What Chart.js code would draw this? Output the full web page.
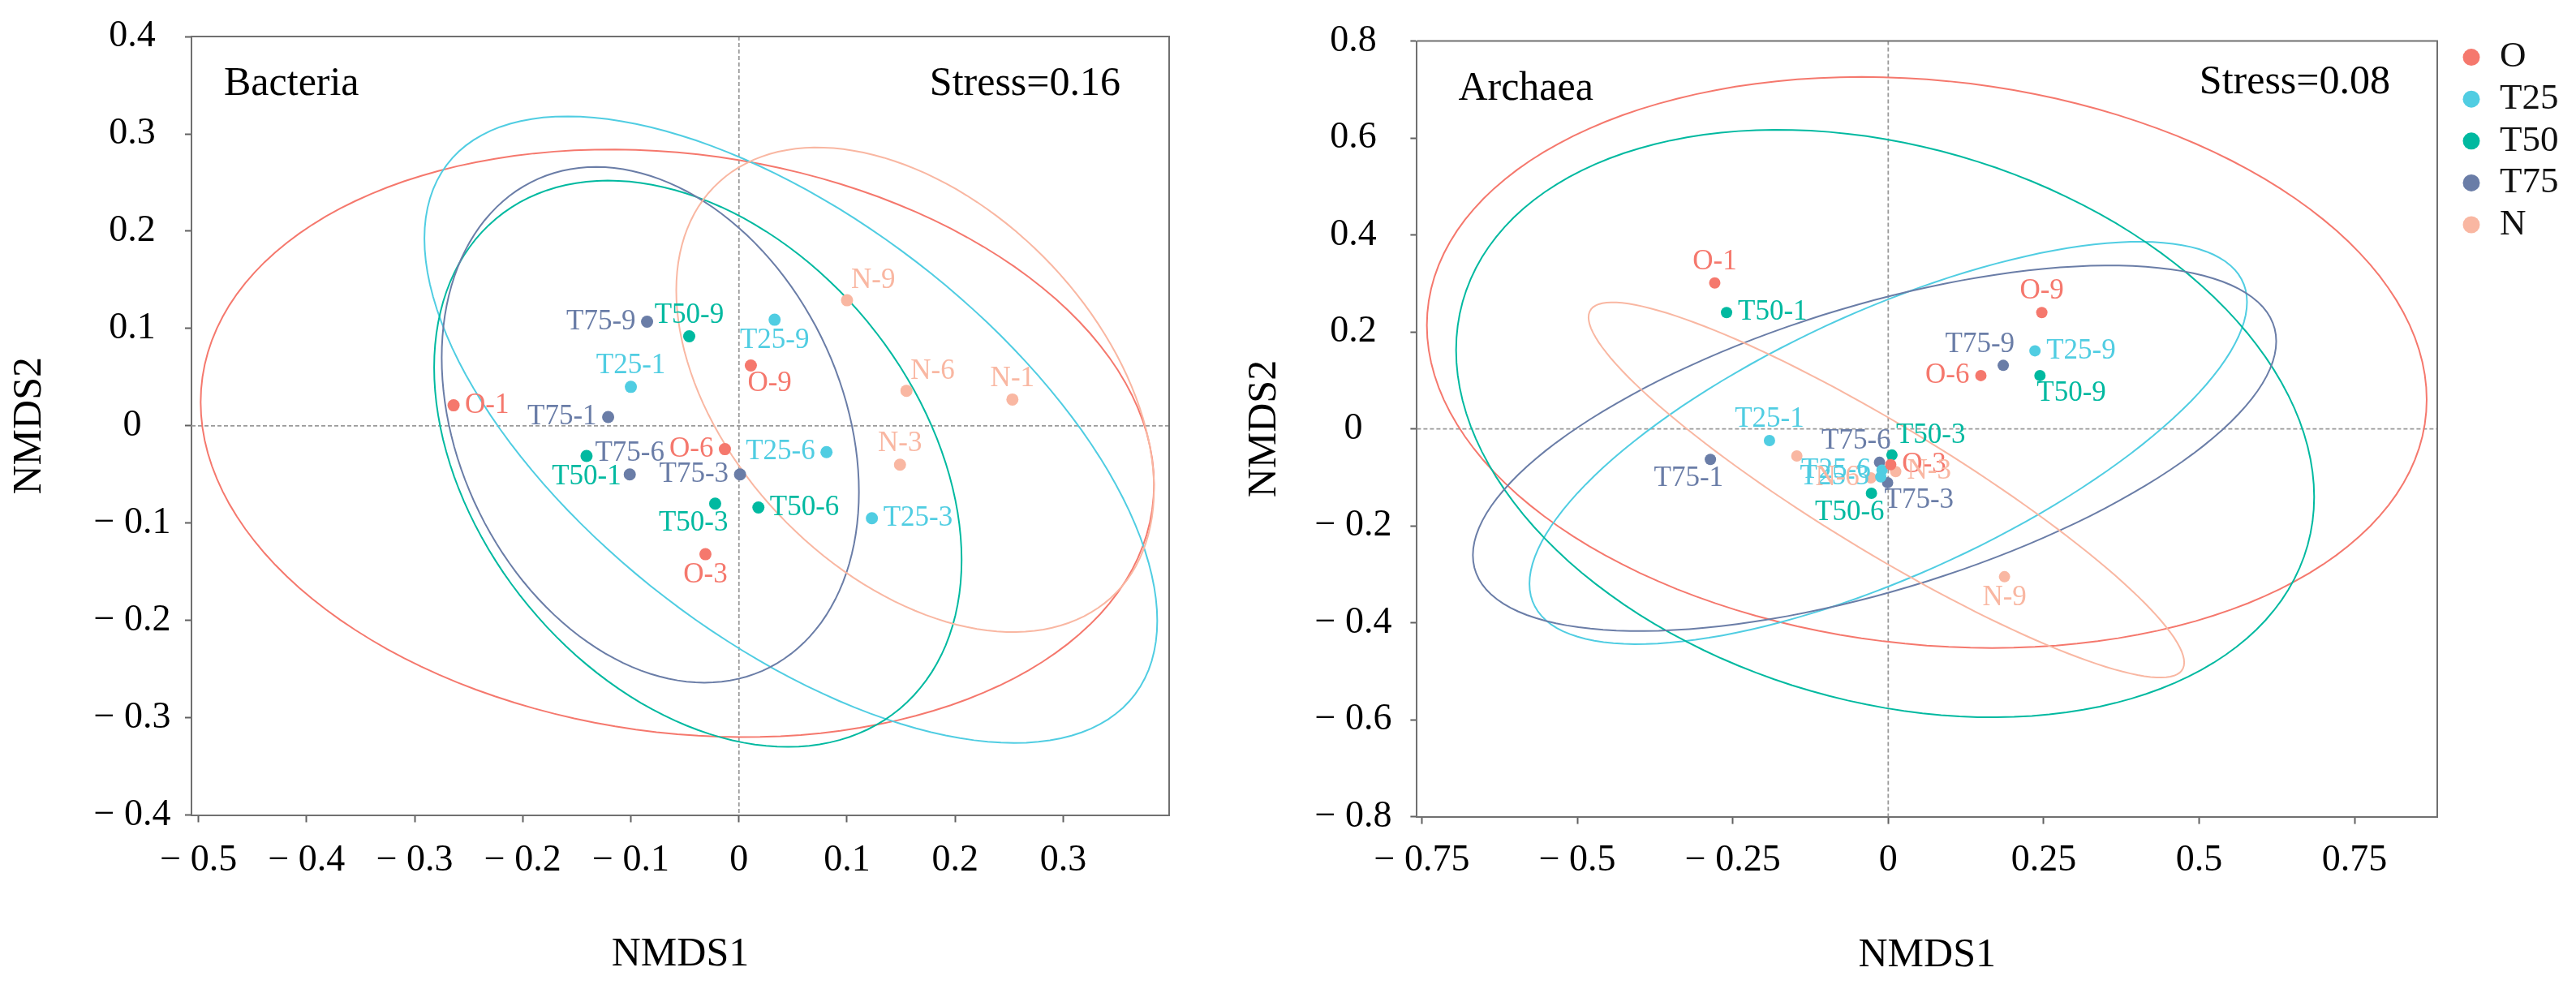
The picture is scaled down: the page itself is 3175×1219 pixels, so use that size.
<!DOCTYPE html>
<html>
<head>
<meta charset="utf-8">
<title>NMDS Bacteria / Archaea</title>
<script src="https://cdn.jsdelivr.net/npm/chart.js@4.4.1/dist/chart.umd.min.js"></script>
<style>
  html, body { margin: 0; padding: 0; background: #fff; }
  body { width: 3175px; height: 1219px; position: relative; overflow: hidden; }
  .panel { position: absolute; top: 0; height: 1219px; }
  #left { left: 0; width: 1500px; }
  #right { left: 1500px; width: 1675px; }
</style>
</head>
<body>
<div class="panel" id="left"><canvas id="bacteria"></canvas></div>
<div class="panel" id="right"><canvas id="archaea"></canvas></div>
<script>
(function () {

  'use strict';

  // groups and sampling days, sample name = group-day
  const groups = ['O', 'T25', 'T50', 'T75', 'N'];
  const days = ['1', '3', '6', '9'];

  // Bacteria NMDS scores [NMDS1, NMDS2] for days 1, 3, 6, 9
  const bactO   = [[-0.264, 0.021], [-0.031, -0.132], [-0.013, -0.024], [0.011, 0.062]];
  const bactT25 = [[-0.100, 0.040], [0.123, -0.095], [0.081, -0.027], [0.033, 0.109]];
  const bactT50 = [[-0.141, -0.031], [-0.022, -0.080], [0.018, -0.084], [-0.046, 0.092]];
  const bactT75 = [[-0.121, 0.009], [0.001, -0.050], [-0.101, -0.050], [-0.085, 0.107]];
  const bactN   = [[0.253, 0.027], [0.149, -0.040], [0.155, 0.036], [0.100, 0.129]];

  // Bacteria group ellipses (O, T25, T50, T75, N): centre, half extents, correlation
  const bactEllCx  = [-0.057, 0.048, -0.038, -0.082, 0.163];
  const bactEllCy  = [-0.018, -0.004, -0.039, 0.001, 0.037];
  const bactEllRx  = [0.441, 0.339, 0.244, 0.193, 0.221];
  const bactEllRy  = [0.302, 0.322, 0.291, 0.265, 0.249];
  const bactEllRho = [-0.14, -0.61, -0.34, -0.26, -0.41];

  // Archaea NMDS scores [NMDS1, NMDS2] for days 1, 3, 6, 9
  const archO   = [[-0.279, 0.301], [0.004, -0.074], [0.149, 0.110], [0.247, 0.240]];
  const archT25 = [[-0.191, -0.024], [-0.012, -0.099], [-0.010, -0.085], [0.236, 0.161]];
  const archT50 = [[-0.260, 0.240], [0.006, -0.054], [-0.027, -0.133], [0.244, 0.110]];
  const archT75 = [[-0.286, -0.063], [-0.001, -0.111], [-0.014, -0.069], [0.185, 0.131]];
  const archN   = [[-0.147, -0.056], [0.012, -0.088], [-0.028, -0.101], [0.187, -0.305]];

  // Archaea group ellipses
  const archEllCx  = [0.062, 0.000, -0.005, -0.022, -0.003];
  const archEllCy  = [0.137, -0.029, 0.011, -0.040, -0.126];
  const archEllRx  = [0.804, 0.577, 0.690, 0.646, 0.479];
  const archEllRy  = [0.589, 0.415, 0.606, 0.377, 0.387];
  const archEllRho = [-0.13, 0.70, -0.25, 0.585, -0.92];

  // axes
  const bactRangeX = [-0.5065, 0.398];
  const bactRangeY = [-0.4, 0.4];
  const bactTicksX = [-0.5, -0.4, -0.3, -0.2, -0.1, 0, 0.1, 0.2, 0.3];
  const bactTicksY = [-0.4, -0.3, -0.2, -0.1, 0, 0.1, 0.2, 0.3, 0.4];
  const archRangeX = [-0.758, 0.883];
  const archRangeY = [-0.8, 0.8];
  const archTicksX = [-0.75, -0.5, -0.25, 0, 0.25, 0.5, 0.75];
  const archTicksY = [-0.8, -0.6, -0.4, -0.2, 0, 0.2, 0.4, 0.6, 0.8];

  // panel texts
  const bactTitle = 'Bacteria', bactStress = 'Stress=0.16';
  const archTitle = 'Archaea', archStress = 'Stress=0.08';

  // styling
  const groupColors = ['#F5786D', '#50CDE2', '#00B9A0', '#6A7DA7', '#F9B7A2'];
  const serif = "'Liberation Serif', 'Times New Roman', serif";

  // where each sample label sits relative to its point (group by group, days 1,3,6,9)
  const bactLabelSide = ['e', 's', 'w', 'se', 'n', 'e', 'w', 's', 's', 'sw', 'e', 'n',
    'w', 'w', 'n', 'w', 'n', 'n', 'ne', 'ne'];
  const archLabelSide = ['n', 'e', 'w', 'n', 'n', 'w', 'w', 'e', 'e', 'ne', 'sw', 'se',
    'sw', 'se', 'nw', 'nw', '', 'e', 'w', 's'];

  Chart.defaults.font.family = serif;
  Chart.defaults.color = '#000';

  function fmt(v) {
    const r = Math.round(v * 100) / 100;
    if (r === 0) return '0';
    return r < 0 ? '\u2212 ' + String(-r) : String(r);
  }

  function nmdsPlugin(cfg) {
    return {
      id: 'nmds_' + cfg.id,
      beforeDatasetsDraw(chart) {
        const ctx = chart.ctx, a = chart.chartArea;
        const x = chart.scales.x, y = chart.scales.y;
        ctx.save();
        ctx.beginPath();
        ctx.rect(a.left, a.top, a.right - a.left, a.bottom - a.top);
        ctx.clip();

        // zero reference lines
        const x0 = x.getPixelForValue(0), y0 = y.getPixelForValue(0);
        ctx.strokeStyle = '#9a9a9a';
        ctx.lineWidth = 1.8;
        ctx.setLineDash([5, 3]);
        ctx.beginPath();
        ctx.moveTo(x0, a.top); ctx.lineTo(x0, a.bottom);
        ctx.moveTo(a.left, y0); ctx.lineTo(a.right, y0);
        ctx.stroke();
        ctx.setLineDash([]);

        // group ellipses
        ctx.lineWidth = 2;
        groups.forEach(function (g, i) {
          const rho = cfg.ell.rho[i], s = Math.sqrt(1 - rho * rho);
          ctx.strokeStyle = groupColors[i];
          ctx.beginPath();
          for (let k = 0; k <= 144; k++) {
            const t = k / 144 * 2 * Math.PI;
            const vx = cfg.ell.cx[i] + cfg.ell.rx[i] * Math.cos(t);
            const vy = cfg.ell.cy[i] + cfg.ell.ry[i] * (rho * Math.cos(t) + s * Math.sin(t));
            const px = x.getPixelForValue(vx), py = y.getPixelForValue(vy);
            if (k === 0) ctx.moveTo(px, py); else ctx.lineTo(px, py);
          }
          ctx.closePath();
          ctx.stroke();
        });
        ctx.restore();
      },
      afterDatasetsDraw(chart) {
        const ctx = chart.ctx;
        ctx.save();
        ctx.font = '35px ' + serif;
        ctx.textBaseline = 'middle';
        ctx.textAlign = 'left';
        chart.data.datasets.forEach(function (ds, gi) {
          chart.getDatasetMeta(gi).data.forEach(function (pt, di) {
            const side = cfg.labelSide[gi * days.length + di];
            if (!side) return;
            const text = groups[gi] + '-' + days[di];
            const w = ctx.measureText(text).width;
            let lx = pt.x - w / 2, ly = pt.y;
            if (side === 'n') ly -= 26;
            else if (side === 's') ly += 26;
            else if (side === 'e') lx = pt.x + 14;
            else if (side === 'w') lx = pt.x - 14 - w;
            else if (side === 'ne') { lx = pt.x + 5; ly -= 24; }
            else if (side === 'se') { lx = pt.x - 4; ly += 22; }
            else if (side === 'nw') { lx = pt.x + 14 - w; ly -= 26; }
            else if (side === 'sw') { lx = pt.x + 16 - w; ly += 24; }
            ctx.fillStyle = groupColors[gi];
            ctx.fillText(text, lx, ly);
          });
        });
        ctx.restore();
      },
      afterDraw(chart) {
        const ctx = chart.ctx, a = chart.chartArea;
        ctx.save();
        // top and right frame
        ctx.strokeStyle = '#707070';
        ctx.lineWidth = 2;
        ctx.beginPath();
        ctx.moveTo(a.left, a.top);
        ctx.lineTo(a.right, a.top);
        ctx.lineTo(a.right, a.bottom);
        ctx.stroke();

        ctx.fillStyle = '#000';
        ctx.font = '50px ' + serif;
        ctx.textBaseline = 'alphabetic';
        ctx.textAlign = 'left';
        ctx.fillText(cfg.title, a.left + cfg.titleDx, a.top + 72);
        ctx.textAlign = 'right';
        ctx.fillText(cfg.stress, a.right - cfg.stressDx, a.top + cfg.stressDy);

        if (cfg.legend) {
          ctx.font = '45px ' + serif;
          ctx.textAlign = 'left';
          ctx.textBaseline = 'middle';
          groups.forEach(function (g, i) {
            const lx = a.right + 42, ly = a.top + 20 + i * 51.6;
            ctx.fillStyle = groupColors[i];
            ctx.beginPath();
            ctx.arc(lx, ly, 10.5, 0, 2 * Math.PI);
            ctx.fill();
            ctx.fillStyle = '#111';
            ctx.fillText(g, lx + 35, ly);
          });
        }
        ctx.restore();
      }
    };
  }

  function makeChart(cfg) {
    const datasets = groups.map(function (g, i) {
      return {
        label: g,
        data: cfg.points[i].map(function (p) { return { x: p[0], y: p[1] }; }),
        backgroundColor: groupColors[i],
        borderWidth: 0,
        pointRadius: cfg.radius,
        pointHoverRadius: cfg.radius
      };
    });

    return new Chart(document.getElementById(cfg.id), {
      type: 'scatter',
      data: { datasets: datasets },
      plugins: [nmdsPlugin(cfg)],
      options: {
        responsive: true,
        maintainAspectRatio: false,
        animation: false,
        events: [],
        layout: { padding: cfg.padding },
        plugins: { legend: { display: false }, tooltip: { enabled: false } },
        scales: {
          x: {
            type: 'linear',
            min: cfg.rangeX[0], max: cfg.rangeX[1],
            afterBuildTicks: function (s) { s.ticks = cfg.ticksX.map(function (v) { return { value: v }; }); },
            afterFit: function (s) { s.height = cfg.xHeight; },
            grid: { drawOnChartArea: false, drawTicks: true, tickLength: 9, tickWidth: 2, tickColor: '#606060' },
            border: { display: true, color: '#707070', width: 2 },
            ticks: { callback: fmt, font: { size: 46 }, color: '#000', padding: cfg.xPad,
              maxRotation: 0, autoSkip: false },
            title: { display: true, text: 'NMDS1', font: { size: 50 }, color: '#000',
              padding: { top: 0, bottom: cfg.xTitlePad } }
          },
          y: {
            type: 'linear',
            min: cfg.rangeY[0], max: cfg.rangeY[1],
            afterBuildTicks: function (s) { s.ticks = cfg.ticksY.map(function (v) { return { value: v }; }); },
            afterFit: function (s) { s.width = cfg.yWidth; },
            grid: { drawOnChartArea: false, drawTicks: true, tickLength: 8, tickWidth: 2, tickColor: '#606060' },
            border: { display: true, color: '#707070', width: 2 },
            ticks: { callback: fmt, font: { size: 46 }, color: '#000', padding: cfg.yPad,
              crossAlign: 'center', autoSkip: false },
            title: { display: true, text: 'NMDS2', font: { size: 50 }, color: '#000',
              padding: { top: cfg.yTitlePad, bottom: 0 } }
          }
        }
      }
    });
  }

  // Bacteria panel
  makeChart({
    id: 'bacteria',
    points: [bactO, bactT25, bactT50, bactT75, bactN],
    ell: { cx: bactEllCx, cy: bactEllCy, rx: bactEllRx, ry: bactEllRy, rho: bactEllRho },
    rangeX: bactRangeX, rangeY: bactRangeY, ticksX: bactTicksX, ticksY: bactTicksY,
    labelSide: bactLabelSide,
    title: bactTitle, stress: bactStress,
    titleDx: 40, stressDx: 60, stressDy: 72,
    radius: 7.5,
    padding: { left: 0, top: 42, right: 59, bottom: 0 },
    xHeight: 214.5, yWidth: 236,
    xPad: 20, yPad: 17.5, xTitlePad: 12, yTitlePad: 7,
    legend: false
  });

  // Archaea panel
  makeChart({
    id: 'archaea',
    points: [archO, archT25, archT50, archT75, archN],
    ell: { cx: archEllCx, cy: archEllCy, rx: archEllRx, ry: archEllRy, rho: archEllRho },
    rangeX: archRangeX, rangeY: archRangeY, ticksX: archTicksX, ticksY: archTicksY,
    labelSide: archLabelSide,
    title: archTitle, stress: archStress,
    titleDx: 51, stressDx: 58, stressDy: 64,
    radius: 7,
    padding: { left: 0, top: 47, right: 171, bottom: 0 },
    xHeight: 212.4, yWidth: 246.4,
    xPad: 18, yPad: 23, xTitlePad: 11, yTitlePad: 29,
    legend: true
  });

})();
</script>
</body>
</html>
